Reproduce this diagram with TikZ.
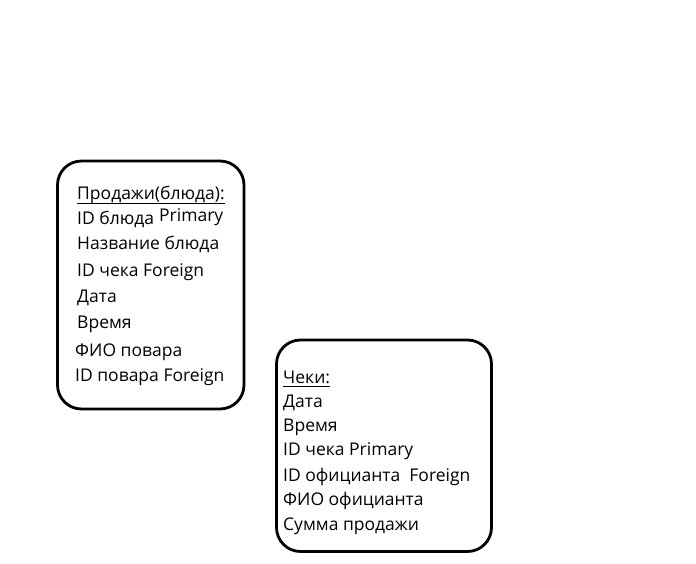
\documentclass[tikz,border=0pt]{standalone}
\usepackage{fontspec}
\setmainfont{Open Sans}
\begin{document}
\begin{tikzpicture}[x=1pt,y=-1pt,
  box/.style={draw=black,line width=2.8pt,rounded corners=24pt},
  uline/.style={draw=black,line width=0.9pt},
  txt/.style={anchor=base west,inner sep=0pt,font=\fontsize{17.5}{19}\selectfont}]
\useasboundingbox (0,0) rectangle (696,564);
\draw[box] (57.5,161) rectangle (244,409);
\draw[box] (276.5,340) rectangle (491.5,551.5);
% Box A
\node[txt] (a0) at (77,200) {Продажи(блюда):};
\draw[uline] ([yshift=-3pt]a0.base west) -- ([yshift=-3pt]a0.base east);
\node[txt] (a1) at (77,225) {ID блюда};
\node[txt] (a1p) at (159,222) {Primary};
\node[txt] (a2) at (77,250) {Название блюда};
\node[txt] (a3) at (77,276) {ID чека Foreign};
\node[txt] (a4) at (77,302) {Дата};
\node[txt] (a5) at (77,328) {Время};
\node[txt] (a6) at (75,356) {ФИО повара};
\node[txt] (a7) at (75,381) {ID повара Foreign};
% Box B
\node[txt] (b0) at (283,383) {Чеки:};
\draw[uline] ([yshift=-3pt]b0.base west) -- ([yshift=-3pt]b0.base east);
\node[txt] (b1) at (283,407) {Дата};
\node[txt] (b2) at (283,431) {Время};
\node[txt] (b3) at (283,455) {ID чека Primary};
\node[txt] (b4) at (283,481) {ID официанта\ \ Foreign};
\node[txt] (b5) at (283,505) {ФИО официанта};
\node[txt] (b6) at (283,530) {Сумма продажи};
\end{tikzpicture}
\end{document}
